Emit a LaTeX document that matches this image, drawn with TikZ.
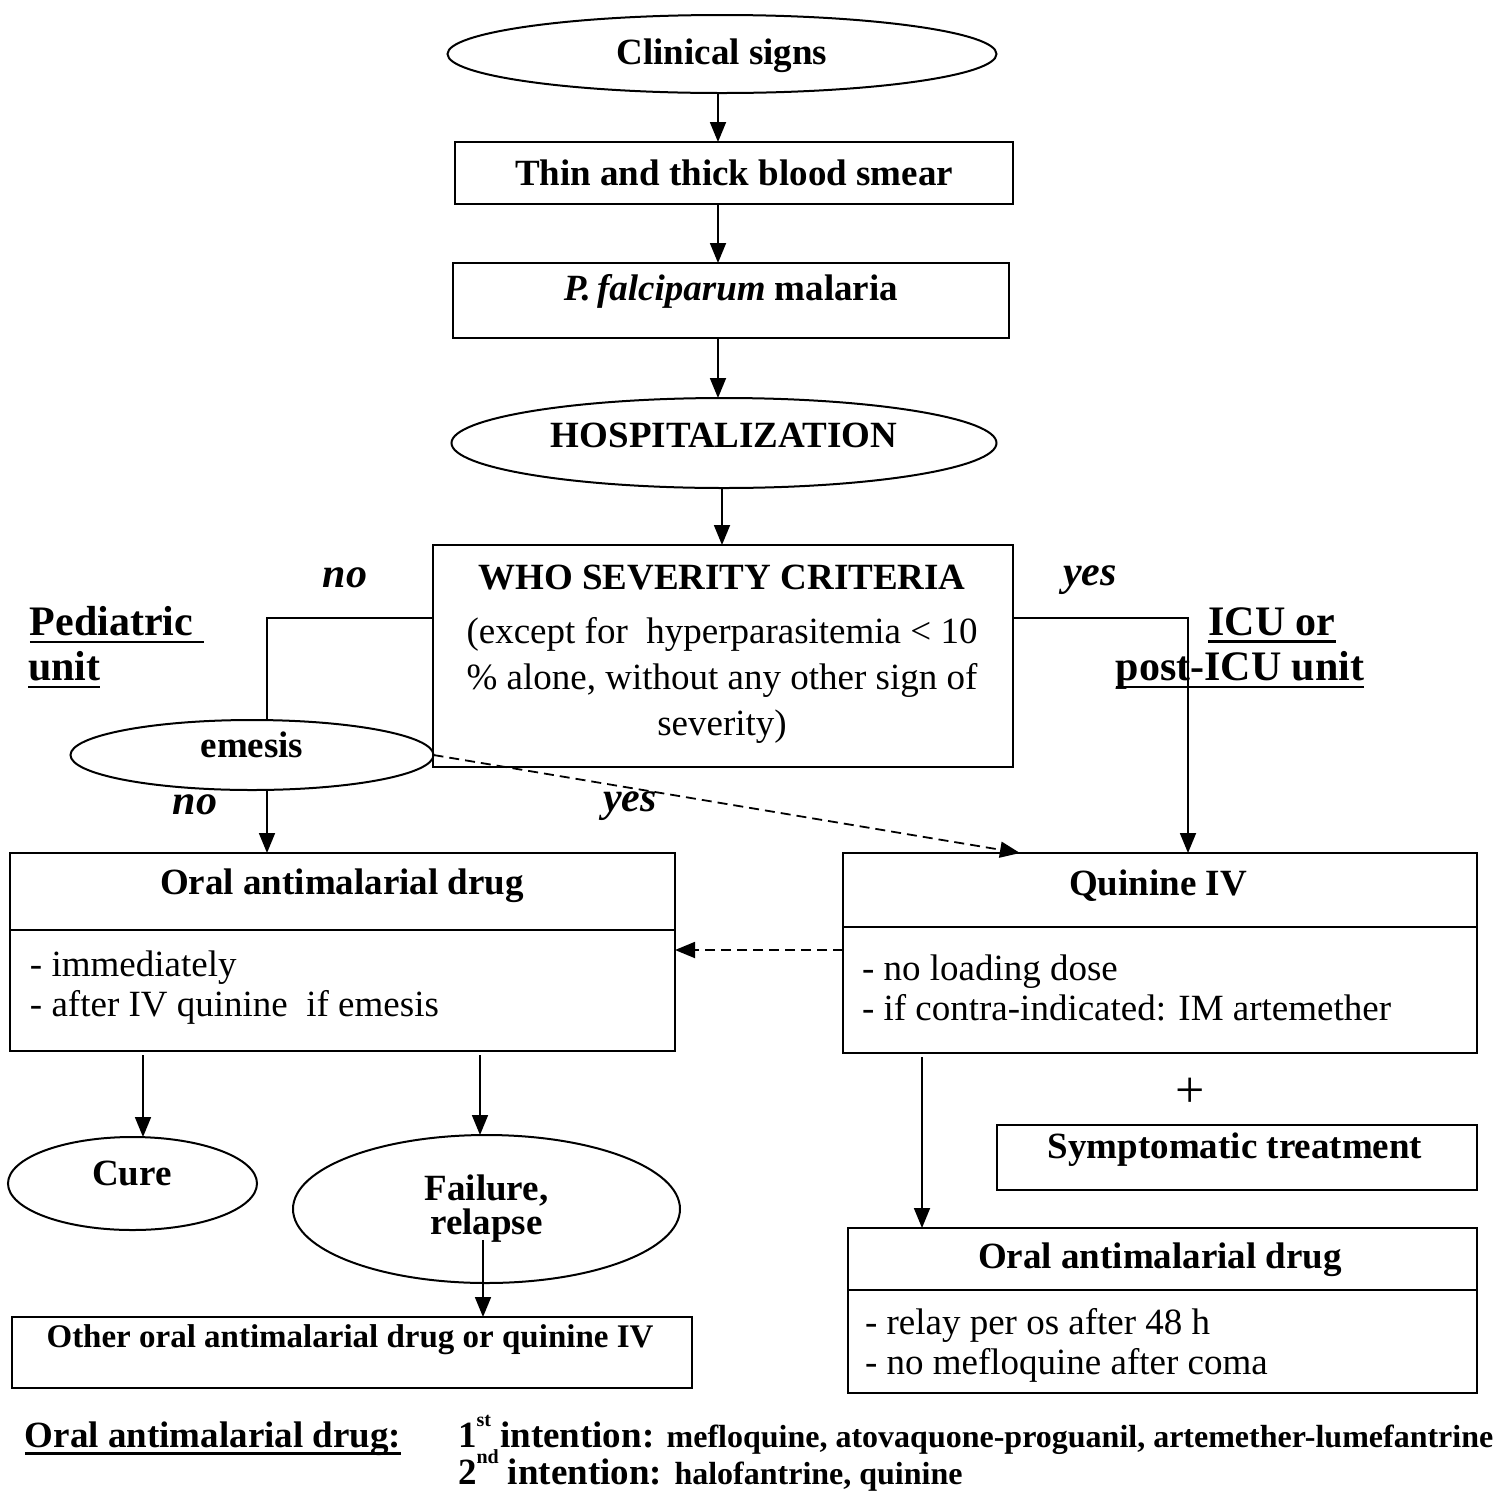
\documentclass[tikz,border=0pt]{standalone}
\usepackage{fontspec}
\setmainfont{Liberation Serif}
\usetikzlibrary{shapes.geometric,arrows.meta}
\newcommand\thul[1]{\leavevmode\vtop{\setbox0\hbox{#1}\dp0=0pt\box0\kern2.5pt\hrule height 1.4pt}}
\newcommand\mysup[1]{\raisebox{0.55em}{\fontsize{10}{10}\selectfont #1}}
\begin{document}
\begin{tikzpicture}[x=0.5pt,y=-0.5pt,
  every node/.style={inner sep=0pt, outer sep=0pt},
  txt/.style={font=\fontsize{18.5}{20}\selectfont},
  ttl/.style={font=\fontsize{18.5}{20}\selectfont\bfseries},
  lab/.style={font=\fontsize{21}{22}\selectfont\bfseries\itshape},
  unitlab/.style={font=\fontsize{21}{22}\selectfont\bfseries},
  box/.style={draw, line width=1.2pt},
  oval/.style={draw, ellipse, line width=1pt},
  arr/.style={-{Triangle[length=10pt,width=8pt]}, line width=0.9pt},
  dasharr/.style={arr, dash pattern=on 5pt off 3pt},
  divider/.style={line width=1.2pt}
]
\useasboundingbox (0,0) rectangle (1512,1495);

% top chain
\node[oval, minimum width=274.5pt, minimum height=39pt] (clin) at (722,54) {};
\node[ttl] (clint) at (722,56) {Clinical signs};
\node[box, ttl, minimum width=279pt, minimum height=31pt] (thin) at (734,173) {Thin and thick blood smear};
\node[box, minimum width=278pt, minimum height=37.5pt] (pf) at (731,300.5) {};
\node[ttl] (pft) at (731,291) {\textit{P.\,falciparum} malaria};
\node[oval, minimum width=272.5pt, minimum height=45pt] (hosp) at (724,443) {};
\node[ttl] (hospt) at (724,435) {HOSPITALIZATION};

% WHO box
\node[box, minimum width=290pt, minimum height=111pt] (who) at (723,656) {};
\node[ttl] (whot) at (722,578) {WHO SEVERITY CRITERIA};
\node[txt, align=center, font=\fontsize{18.5}{23}\selectfont] (whob) at (722,680)
  {(except for\ \ hyperparasitemia < 10\\\% alone, without any other sign of\\severity)};

% side labels
\node[unitlab, anchor=west] (ped1) at (30,625) {\thul{Pediatric\ }};
\node[unitlab, anchor=west] (ped2) at (28,670) {\thul{unit}};
\node[unitlab] (icu1) at (1272,625) {\thul{ICU or}};
\node[unitlab] (icu2) at (1240,670) {\thul{post-ICU unit}};
\node[lab] (no1) at (345,578) {no};
\node[lab] (yes1) at (1090,580) {yes};
\node[lab] (no2) at (195,805) {no};
\node[lab] (yes2) at (630,806) {yes};

% emesis
\node[oval, minimum width=181.5pt, minimum height=35pt] (emesis) at (252,755) {};
\node[ttl] (emesist) at (252,745) {emesis};

% oral (left)
\node[box, minimum width=332.5pt, minimum height=99pt] (oral) at (342.5,952) {};
\path (0,930) coordinate (d1) (0,927) coordinate (d2) (0,1290) coordinate (d3);
\draw[divider] (oral.west |- d1) -- (oral.east |- d1);
\node[ttl] (oralt) at (342,886) {Oral antimalarial drug};
\node[txt, anchor=west, align=left] (oralb) at (30,988) {- immediately\\- after IV quinine\ \ if emesis};

% quinine
\node[box, minimum width=317pt, minimum height=100pt] (quin) at (1160,953) {};
\draw[divider] (quin.west |- d2) -- (quin.east |- d2);
\node[ttl] (quint) at (1158,886) {Quinine IV};
\node[txt, anchor=west, align=left] (quinb) at (862,988) {- no loading dose\\- if contra-indicated: IM artemether};

% plus and symptomatic
\node[font=\fontsize{26}{26}\selectfont] (plus) at (1190,1093) {+};
\node[box, minimum width=240pt, minimum height=32.5pt] (symp) at (1237,1157.5) {};
\node[ttl] (sympt) at (1235,1150) {Symptomatic treatment};

% oral (right)
\node[box, minimum width=314.5pt, minimum height=82.5pt] (oralr) at (1162.5,1310.5) {};
\draw[divider] (oralr.west |- d3) -- (oralr.east |- d3);
\node[ttl] (oralrt) at (1160,1260) {Oral antimalarial drug};
\node[txt, anchor=west, align=left] (oralrb) at (865,1345) {- relay per os after 48 h\\- no mefloquine after coma};

% outcomes
\node[oval, minimum width=124.5pt, minimum height=46.5pt] (cure) at (132.5,1183.5) {};
\node[ttl] (curet) at (132,1173) {Cure};
\node[oval, ttl, align=center, font=\fontsize{18.5}{17}\selectfont\bfseries, minimum width=193.5pt, minimum height=74pt] (fail) at (486.5,1209) {Failure,\\relapse};
\node[box, minimum width=340pt, minimum height=35.5pt] (other) at (352,1352.5) {};
\node[font=\fontsize{16.5}{18}\selectfont\bfseries] (othert) at (350,1340) {Other oral antimalarial drug or quinine IV};

% legend
\node[ttl, anchor=base west] (leg) at (25,1447) {\thul{Oral antimalarial drug:}};
\node[ttl, anchor=base west] (leg1) at (458,1447) {1\mysup{st}\ intention: {\fontsize{16}{18}\selectfont mefloquine, atovaquone-proguanil, artemether-lumefantrine}};
\node[ttl, anchor=base west] (leg2) at (458,1484) {2\mysup{nd}\ intention: {\fontsize{16}{18}\selectfont halofantrine, quinine}};

% connectors
\path (718,0) coordinate (c718) (722,0) coordinate (c722) (0,618) coordinate (r618)
      (267,0) coordinate (c267) (1188,0) coordinate (c1188) (1020,0) coordinate (c1020)
      (0,950) coordinate (r950) (143,0) coordinate (c143) (480,0) coordinate (c480)
      (922,0) coordinate (c922) (483,1240) coordinate (failin);
\draw[arr] (clin.south -| c718) -- (thin.north -| c718);
\draw[arr] (thin.south -| c718) -- (pf.north -| c718);
\draw[arr] (pf.south -| c718) -- (hosp.north -| c718);
\draw[arr] (hosp.south -| c722) -- (who.north -| c722);
\draw[line width=0.9pt] (who.west |- r618) -| (emesis.north -| c267);
\draw[arr] (who.east |- r618) -| (quin.north -| c1188);
\draw[arr] (emesis.south -| c267) -- (oral.north -| c267);
\draw[dasharr] (emesis.east) -- (quin.north -| c1020);
\draw[dasharr] (quin.west |- r950) -- (oral.east |- r950);
\draw[arr] ([yshift=-2pt]oral.south -| c143) -- (cure.north -| c143);
\draw[arr] ([yshift=-2pt]oral.south -| c480) -- (fail.north -| c480);
\draw[arr] (failin) -- (other.north -| failin);
\draw[arr] ([yshift=-2pt]quin.south -| c922) -- (oralr.north -| c922);
\end{tikzpicture}
\end{document}
